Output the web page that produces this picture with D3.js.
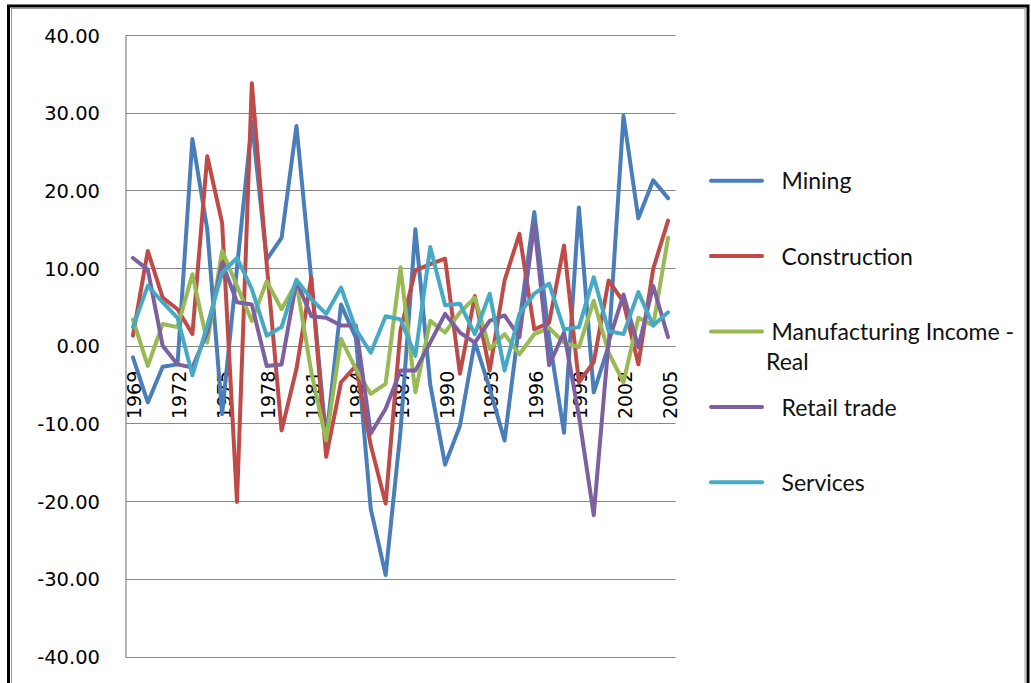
<!DOCTYPE html>
<html>
<head>
<meta charset="utf-8">
<script src="https://d3js.org/d3.v7.min.js"></script>
<style>
  html, body { margin: 0; padding: 0; background: #fff; }
  svg { display: block; }
</style>
</head>
<body>
<svg id="chart" width="1031" height="683"></svg>
<script>
const years = d3.range(1969, 2006).map(String);
const tickYears = ["1969","1972","1975","1978","1981","1984","1987","1990","1993","1996","1999","2002","2005"];
const yTicks = [40, 30, 20, 10, 0, -10, -20, -30, -40];

const mining = [-1.5,-7.3,-2.7,-2.4,26.6,15,-8.8,10,28.8,11.1,13.9,28.3,8.5,-12,5.3,1,-21,-29.5,-11,15,-5,-15.3,-10.3,0.5,-5.5,-12.2,3,17.2,1,-11.2,17.8,-6,0,29.6,16.4,21.3,19];
const construction = [1.3,12.2,6.2,4.7,1.5,24.4,15.8,-20.1,33.8,10.5,-10.9,-3,8.8,-14.3,-4.7,-2.6,-12.8,-20.3,2,9.7,10.5,11.2,-3.6,6.4,-3.2,8.4,14.4,2.1,3,12.9,-4.7,-2.1,8.4,5.6,-2.4,9.9,16.1];
const manufacturing = [3.4,-2.6,2.8,2.4,9.2,0.4,12.2,7.7,3.2,8.3,4.7,8.1,-3.4,-12.2,0.9,-3,-6.2,-4.9,10.1,-6,3.2,1.7,4.3,6.2,-0.4,1.5,-1.1,1.5,2.3,0.4,-0.2,5.8,-0.9,-4.7,3.6,2.6,13.9];
const retail = [11.3,9.8,0,-2.4,-2.8,1.7,10.7,5.6,5.3,-2.6,-2.4,8.3,3.8,3.6,2.6,2.6,-11.3,-8.1,-3.2,-3.2,0.4,4.1,1.7,0.4,3.2,3.9,1.1,15.7,-2.5,1.7,-9,-21.8,0.5,6.6,-0.2,7.7,1.1];
const services = [2.4,7.7,5.6,3.6,-3.8,2.6,9.4,11.3,7.3,1.3,2.4,8.5,6,4.1,7.5,2.1,-0.9,3.8,3.4,-1.3,12.7,5.2,5.4,1.5,6.7,-3.2,4.1,6.7,8,2.1,2.4,8.8,1.9,1.5,6.9,2.6,4.3];

const seriesNames = ["Mining", "Construction", "Manufacturing Income -\nReal", "Retail trade", "Services"];
const seriesValues = [mining, construction, manufacturing, retail, services];
const seriesColors = ["#4A7EBB", "#BE4B48", "#98B954", "#7D60A0", "#46AAC5"];

const svg = d3.select("#chart");

// outer frame
svg.append("rect").attr("x", 8.5).attr("y", 6).attr("width", 1019.5).attr("height", 690)
  .attr("fill", "#fff").attr("stroke", "#000").attr("stroke-width", 3);
svg.append("rect").attr("x", 11.5).attr("y", 8.5).attr("width", 1013.5).attr("height", 690)
  .attr("fill", "none").attr("stroke", "#9a9a9a").attr("stroke-width", 1);

const plot = { left: 125.5, right: 675.5, top: 35, bottom: 656.5 };

const x = d3.scalePoint().domain(years).range([plot.left, plot.right]).padding(0.5);
const y = d3.scaleLinear().domain([-40, 40]).range([plot.bottom, plot.top]);

// gridlines
svg.append("g").selectAll("line").data(yTicks).join("line")
  .attr("x1", plot.left).attr("x2", plot.right)
  .attr("y1", d => Math.round(y(d)) + 0.5).attr("y2", d => Math.round(y(d)) + 0.5)
  .attr("stroke", "#878787").attr("stroke-width", 1.2);

// y axis
const yAxis = d3.axisLeft(y).tickValues(yTicks).tickSize(0).tickPadding(0)
  .tickFormat(d => d.toFixed(2));
const gy = svg.append("g").attr("transform", `translate(${plot.left},0)`).call(yAxis);
gy.select(".domain").attr("stroke", "#878787").attr("stroke-width", 1.2);
gy.selectAll("text")
  .attr("x", 100 - plot.left)
  .attr("font-family", "DejaVu Sans")
  .attr("font-size", "19.5px")
  .attr("fill", "#000")
  .attr("text-anchor", "end")
  .attr("dy", "0.36em");

// x axis labels (rotated)
const xAxis = d3.axisBottom(x).tickValues(tickYears).tickSize(0).tickPadding(0);
const gx = svg.append("g").attr("transform", `translate(0,${y(0)})`).call(xAxis);
gx.select(".domain").remove();
gx.selectAll("text")
  .attr("font-family", "DejaVu Sans")
  .attr("font-size", "19px")
  .attr("fill", "#000")
  .attr("text-anchor", "end")
  .attr("dy", null)
  .attr("y", 0)
  .attr("transform", "translate(8,25) rotate(-90)");

// lines
const line = d3.line().x((d, i) => x(years[i])).y(d => y(d)).curve(d3.curveLinear);
svg.append("g").selectAll("path").data(seriesValues).join("path")
  .attr("d", d => line(d))
  .attr("fill", "none")
  .attr("stroke", (d, i) => seriesColors[i])
  .attr("stroke-width", 4)
  .attr("stroke-linejoin", "round")
  .attr("stroke-linecap", "round");

// legend
const legendY = d3.scalePoint().domain(seriesNames).range([180.7, 482.3]);
const lg = svg.append("g");
seriesNames.forEach((name, i) => {
  const ly = legendY(name);
  lg.append("line").attr("x1", 711).attr("x2", 762).attr("y1", ly).attr("y2", ly)
    .attr("stroke", seriesColors[i]).attr("stroke-width", 4).attr("stroke-linecap", "round");
  const parts = name.split("\n");
  parts.forEach((p, k) => {
    lg.append("text")
      .attr("x", k === 0 ? (parts.length > 1 ? 771.5 : 781.5) : 766)
      .attr("y", ly + 8.6 + k * 30)
      .attr("font-family", "Lato")
      .attr("font-size", "23px")
      .attr("fill", "#111")
      .text(p);
  });
});
</script>
</body>
</html>
